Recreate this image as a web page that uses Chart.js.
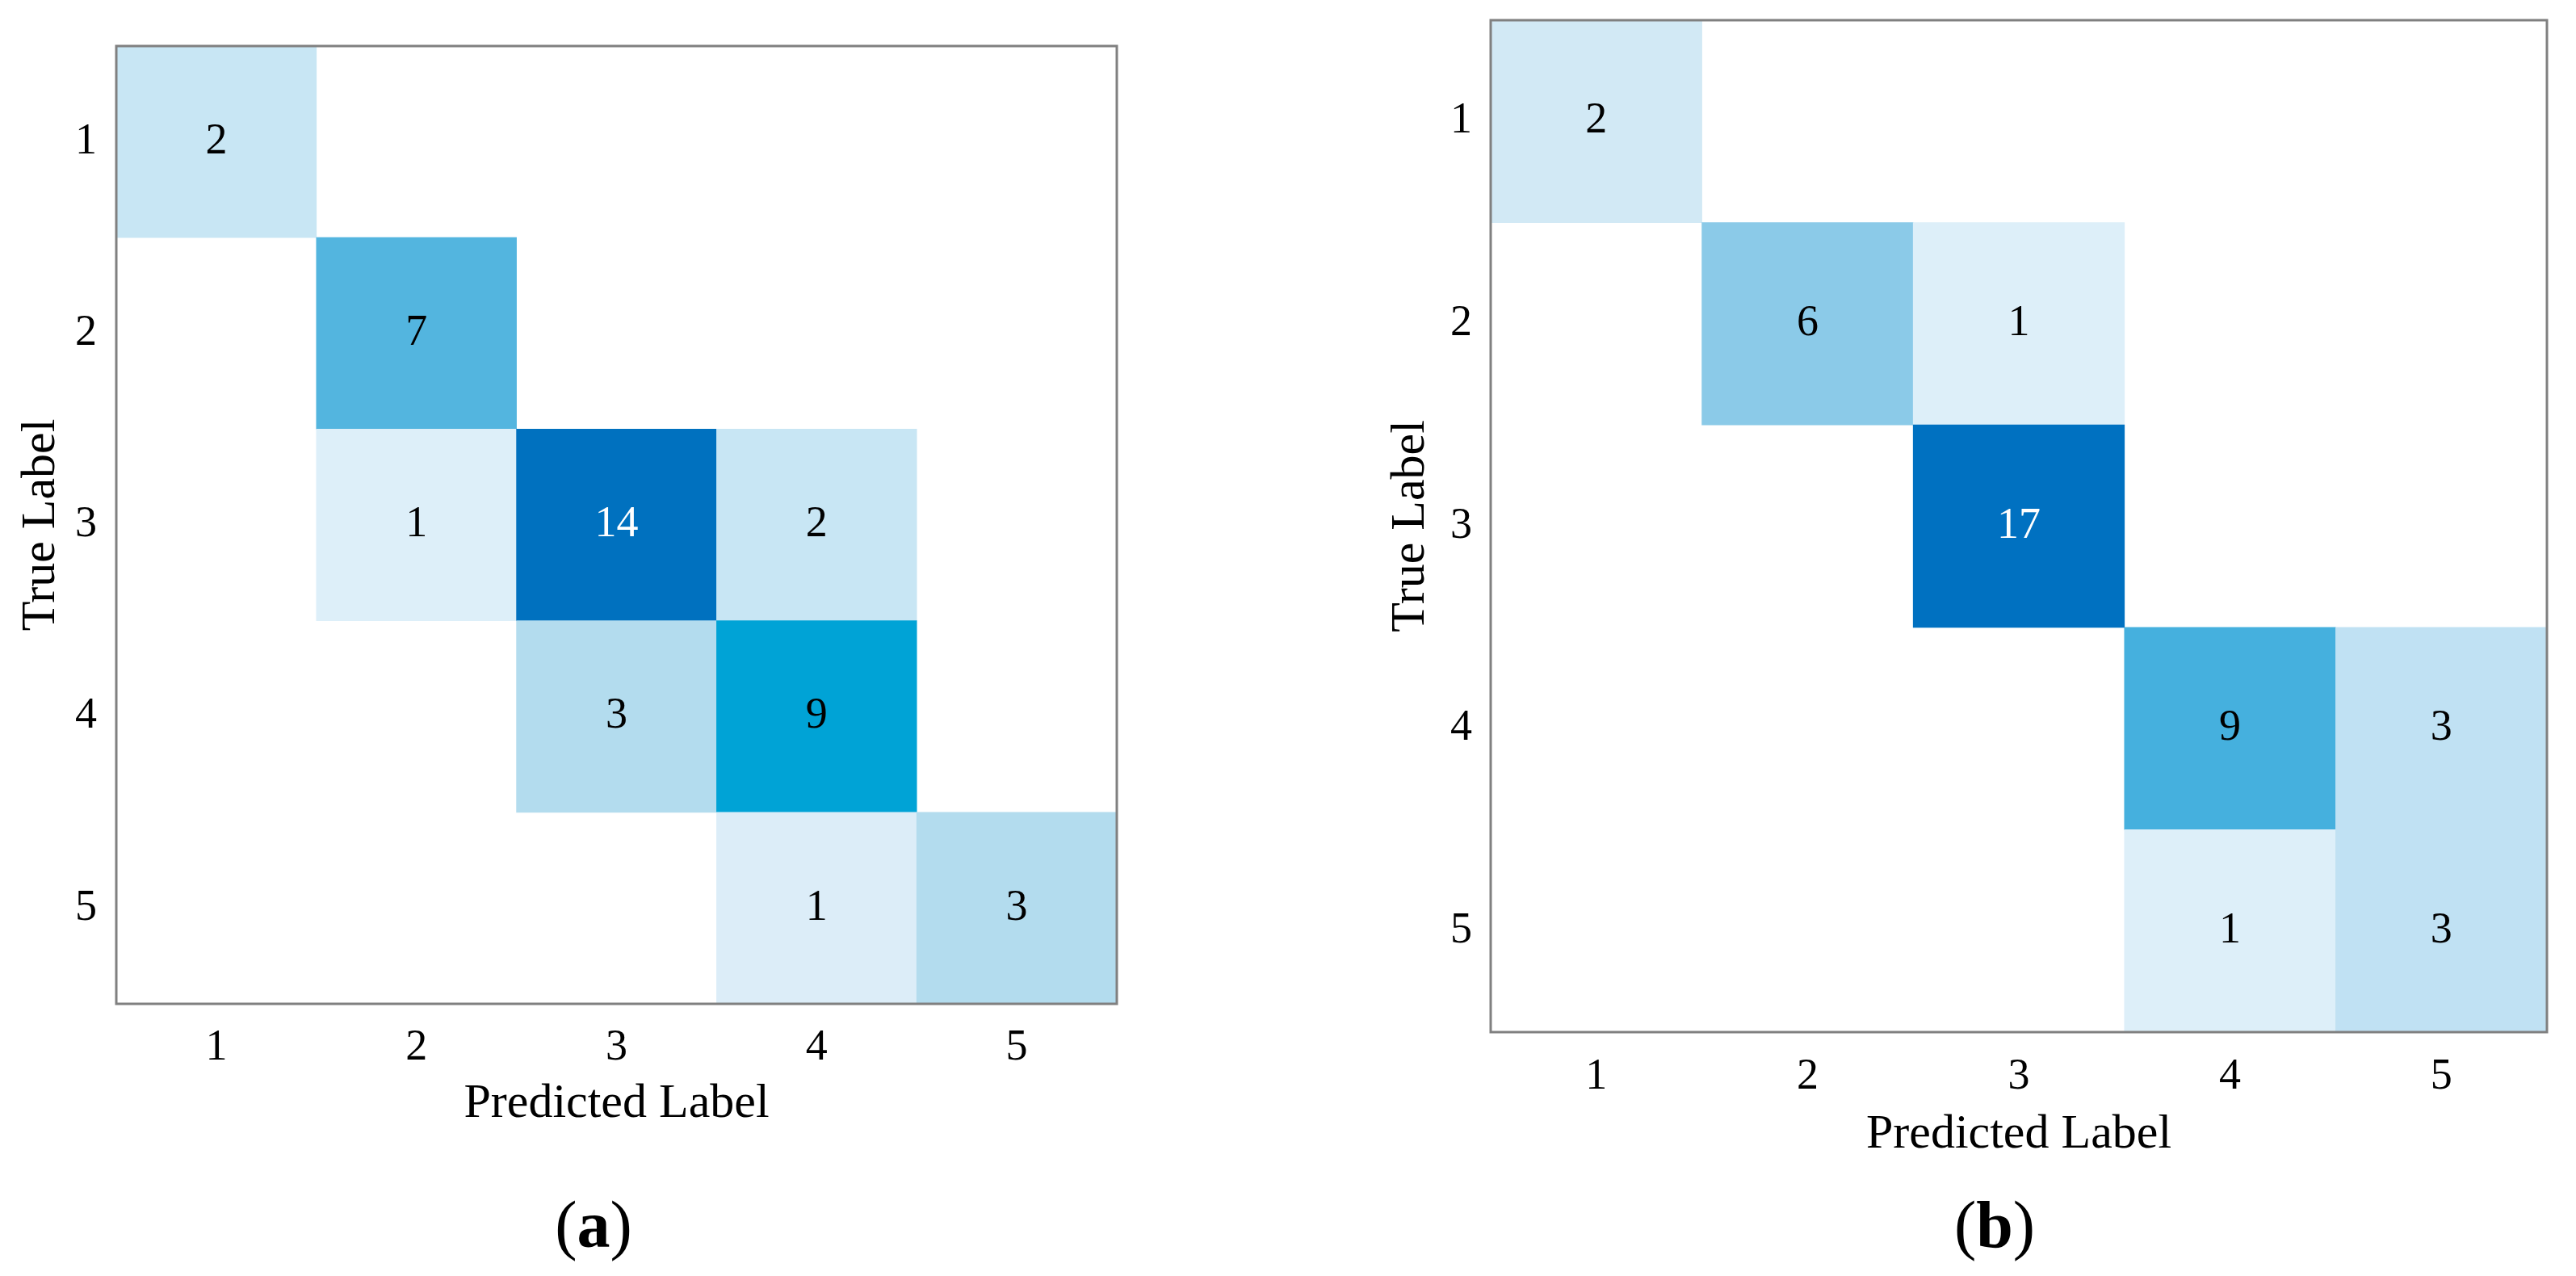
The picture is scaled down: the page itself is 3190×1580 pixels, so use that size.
<!DOCTYPE html>
<html>
<head>
<meta charset="utf-8">
<script src="https://cdn.jsdelivr.net/npm/chart.js@4.4.1/dist/chart.umd.min.js"></script>
<style>
  html, body { margin: 0; padding: 0; background: #fff; }
  body { width: 3190px; height: 1580px; position: relative; overflow: hidden; font-family: "Liberation Serif", serif; }
  .box { position: absolute; top: 0; height: 1460px; }
  #boxA { left: 0; width: 1500px; }
  #boxB { left: 1700px; width: 1490px; }
  .cap { position: absolute; font-size: 82px; line-height: 1; transform: translate(-50%, -50%); color: #000; }
</style>
</head>
<body>
<div class="box" id="boxA"><canvas id="chartA"></canvas></div>
<div class="box" id="boxB"><canvas id="chartB"></canvas></div>
<div class="cap" style="left:735px; top:1517px">(<b>a</b>)</div>
<div class="cap" style="left:2470px; top:1517px">(<b>b</b>)</div>

<script>
// class labels (same for predicted and true)
const classLabels = ['1', '2', '3', '4', '5'];
const rowTicks = [1, 2, 3, 4, 5];

// confusion matrices, rows = true label, columns = predicted label
const matrixA = [
  [2, 0, 0, 0, 0],
  [0, 7, 0, 0, 0],
  [0, 1, 14, 2, 0],
  [0, 0, 3, 9, 0],
  [0, 0, 0, 1, 3]
];
const matrixB = [
  [2, 0, 0, 0, 0],
  [0, 6, 1, 0, 0],
  [0, 0, 17, 0, 0],
  [0, 0, 0, 9, 3],
  [0, 0, 0, 1, 3]
];

const xTitle = 'Predicted Label';
const yTitle = 'True Label';

// cell colours picked off the figure
const coloursA = [
  ['#c8e6f4', null, null, null, null],
  [null, '#53b5df', null, null, null],
  [null, '#ddeff9', '#0071bf', '#c8e6f4', null],
  [null, null, '#b3dcee', '#00a3d6', null],
  [null, null, null, '#dcedf8', '#b3dcee']
];
const coloursB = [
  ['#d2e9f5', null, null, null, null],
  [null, '#8bcae8', '#ddeff9', null, null],
  [null, null, '#0071c1', null, null],
  [null, null, null, '#45b0de', '#c0e1f3'],
  [null, null, null, '#ddeff9', '#c0e1f3']
];

Chart.defaults.font.family = '"Liberation Serif", "Times New Roman", serif';
Chart.defaults.color = '#000';

function cellsOf(matrix) {
  const out = [];
  matrix.forEach((row, r) => {
    row.forEach((v, c) => {
      if (v > 0) {
        out.push({ x: classLabels[c], y: [rowTicks[r] - 0.5, rowTicks[r] + 0.5], v: v, r: r, c: c });
      }
    });
  });
  return out;
}

// numbers in the cells
const valuePlugin = {
  id: 'cellValues',
  afterDatasetsDraw(chart) {
    const ds = chart.data.datasets[0];
    const max = Math.max(...ds.data.map(d => d.v));
    const ctx = chart.ctx;
    ctx.save();
    ctx.font = '54px "Liberation Serif"';
    ctx.textAlign = 'center';
    ctx.textBaseline = 'middle';
    chart.getDatasetMeta(0).data.forEach((bar, i) => {
      const d = ds.data[i];
      ctx.fillStyle = d.v / max > 0.7 ? '#ffffff' : '#000000';
      ctx.fillText(String(d.v), bar.x, (bar.y + bar.base) / 2);
    });
    ctx.restore();
  }
};

// grey box round the plot area
const framePlugin = {
  id: 'frame',
  afterDatasetsDraw(chart) {
    const { ctx, chartArea: a } = chart;
    ctx.save();
    ctx.strokeStyle = '#808080';
    ctx.lineWidth = 3;
    ctx.strokeRect(a.left, a.top, a.right - a.left, a.bottom - a.top);
    ctx.restore();
  }
};

function makeChart(id, matrix, colours, g) {
  return new Chart(document.getElementById(id), {
    type: 'bar',
    data: {
      labels: classLabels,
      datasets: [{
        data: cellsOf(matrix),
        backgroundColor: c => (c.raw ? colours[c.raw.r][c.raw.c] : '#ffffff'),
        borderWidth: 0,
        categoryPercentage: 1,
        barPercentage: 1
      }]
    },
    options: {
      responsive: true,
      maintainAspectRatio: false,
      animation: false,
      devicePixelRatio: 1,
      layout: { padding: { top: g.top, right: g.right, left: 0, bottom: 0 } },
      plugins: { legend: { display: false }, tooltip: { enabled: false } },
      scales: {
        x: {
          type: 'category',
          offset: true,
          grid: { display: false, drawTicks: false },
          border: { display: false },
          ticks: { padding: g.xTickPad, maxRotation: 0, font: { size: 54 } },
          title: { display: true, text: xTitle, font: { size: 60 }, padding: { top: 0, bottom: g.xTitlePad } },
          afterFit: s => {
            s.height = g.xAxisH;
            s.paddingLeft = 0;
            s.paddingRight = 0;
          }
        },
        y: {
          type: 'linear',
          reverse: true,
          min: 0.5,
          max: 5.5,
          afterBuildTicks: s => { s.ticks = rowTicks.map(v => ({ value: v })); },
          grid: { display: false, drawTicks: false },
          border: { display: false },
          ticks: { padding: g.yTickPad, font: { size: 54 }, callback: v => classLabels[rowTicks.indexOf(v)] },
          title: { display: true, text: yTitle, font: { size: 60 }, padding: { top: g.yTitlePad, bottom: 0 } },
          afterFit: s => {
            s.width = g.yAxisW;
            s.paddingTop = 0;
            s.paddingBottom = 0;
          }
        }
      }
    },
    plugins: [valuePlugin, framePlugin]
  });
}

makeChart('chartA', matrixA, coloursA, {
  top: 57, right: 117, yAxisW: 144, xAxisH: 217,
  xTickPad: 22, xTitlePad: 57, yTickPad: 24, yTitlePad: 15
});
makeChart('chartB', matrixB, coloursB, {
  top: 25, right: 36, yAxisW: 146, xAxisH: 182,
  xTickPad: 23, xTitlePad: 19, yTickPad: 23, yTitlePad: 11
});
</script>
</body>
</html>
